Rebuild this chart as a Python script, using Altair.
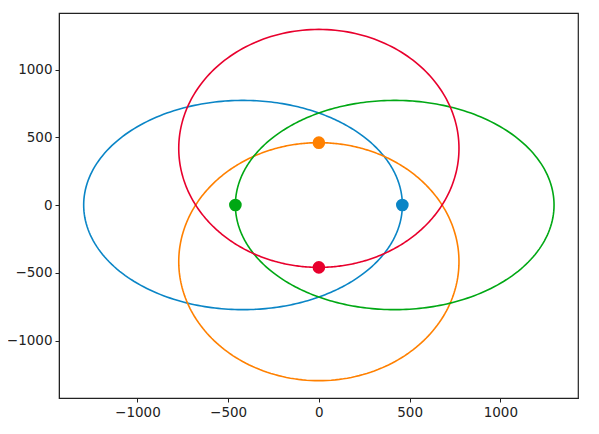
import numpy as np
import pandas as pd
import altair as alt

# Orbits: focus at origin
names = ["blue", "orange", "green", "red"]
colors = ["#0a85c6", "#ff8000", "#00a814", "#e8002d"]
periapsis = [460, 460, 460, 460]        # closest distance to origin
apoapsis = [1296, 1296, 1296, 1296]     # farthest distance
direction_deg = [0, 90, 180, 270]       # direction of periapsis
# marker positions (at periapsis)
point_x = [460, 0, -460, 0]
point_y = [0, 460, 0, -460]

rows = []
for n, q, Q, w in zip(names, periapsis, apoapsis, direction_deg):
    a = (q + Q) / 2.0
    e = (Q - q) / (Q + q)
    th = np.linspace(0, 2 * np.pi, 361)
    r = a * (1 - e**2) / (1 + e * np.cos(th))
    ang = th + np.deg2rad(w)
    for i, (rr, aa) in enumerate(zip(r, ang)):
        rows.append({"s": n, "i": i, "x": rr * np.cos(aa), "y": rr * np.sin(aa)})
orbits = pd.DataFrame(rows)
pts = pd.DataFrame({"s": names, "x": point_x, "y": point_y})

cscale = alt.Scale(domain=names, range=colors)
xs = alt.Scale(domain=[-1432, 1428], nice=False, zero=False)
ys = alt.Scale(domain=[-1424, 1417], nice=False, zero=False)
ticks = [-1000, -500, 0, 500, 1000]

axis_common = dict(grid=False, tickColor="#222222", domainColor="#222222", tickSize=4,
                   labelFontSize=13.5, labelFont="DejaVu Sans", labelColor="#222222",
                   labelPadding=3, title=None, values=ticks, format="d")

lines = alt.Chart(orbits).mark_line(strokeWidth=1.6).encode(
    x=alt.X("x:Q", scale=xs, axis=alt.Axis(**axis_common)),
    y=alt.Y("y:Q", scale=ys, axis=alt.Axis(**axis_common)),
    detail="s:N",
    order="i:Q",
    color=alt.Color("s:N", scale=cscale, legend=None),
)
dots = alt.Chart(pts).mark_circle(size=160, opacity=1).encode(
    x=alt.X("x:Q", scale=xs),
    y=alt.Y("y:Q", scale=ys),
    color=alt.Color("s:N", scale=cscale, legend=None),
)

chart = alt.layer(lines, dots).properties(
    width=519, height=385,
    autosize=alt.AutoSizeParams(type="none"),
    padding={"left": 51, "top": 5, "right": 10, "bottom": 20},
    background="white",
).configure_view(stroke="#222222", strokeWidth=1.2)

chart.save("out.html", embed_options={"renderer": "svg", "actions": False})
